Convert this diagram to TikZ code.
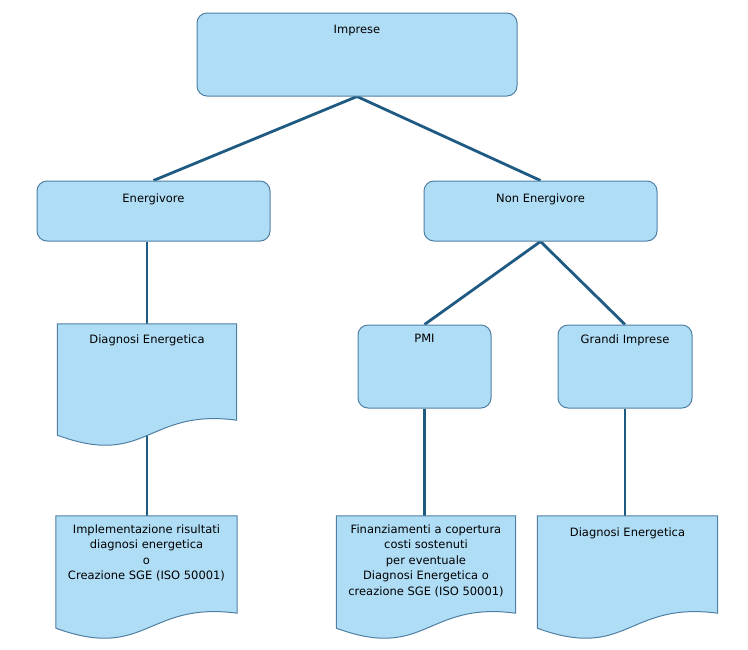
\documentclass[tikz,border=0pt]{standalone}
\usepackage{fontspec}
\setmainfont{DejaVu Sans}
\usepackage{tikz}
\usetikzlibrary{calc, backgrounds}

\definecolor{boxfill}{HTML}{B0DDF6}
\definecolor{boxline}{HTML}{4F7FA3}
\definecolor{linkblue}{HTML}{1F5A82}

\begin{document}
\begin{tikzpicture}[
    x=1pt, y=1pt,
    box/.style={draw=boxline, fill=boxfill, line width=1pt, rounded corners=10pt, inner sep=0pt},
    docbox/.style={draw=none, fill=none, inner sep=0pt},
    doc/.style={draw=boxline, fill=boxfill, line width=1pt},
    caption/.style={anchor=north, align=center, font=\fontsize{11.5}{15.5}\selectfont},
    link/.style={draw=linkblue, line width=2.8pt}
]
\useasboundingbox (0,0) rectangle (748,-649);

% boxes
\node[box, minimum width=320, minimum height=83, label={[caption, yshift=-9]north:Imprese}] (imprese) at (357,-54.5) {};
\node[box, minimum width=233, minimum height=60, label={[caption, yshift=-10]north:Energivore}] (energ) at (153.5,-211) {};
\node[box, minimum width=233, minimum height=60, label={[caption, yshift=-10]north:Non Energivore}] (nonenerg) at (540.5,-211) {};
\node[box, minimum width=133, minimum height=83, label={[caption, yshift=-6]north:PMI}] (pmi) at (424.5,-366.5) {};
\node[box, minimum width=134, minimum height=83, label={[caption, yshift=-7]north:Grandi Imprese}] (grandi) at (625,-366.5) {};

% documents
\node[docbox, minimum width=179, minimum height=120, label={[caption, yshift=-7]north:Diagnosi Energetica}] (diagL) at (147,-384) {};
\node[docbox, minimum width=181, minimum height=121, label={[caption, yshift=-5]north:Implementazione risultati\\diagnosi energetica\\o\\Creazione SGE (ISO 50001)}] (implL) at (146.5,-576.5) {};
\node[docbox, minimum width=179, minimum height=121, label={[caption, yshift=-5]north:Finanziamenti a copertura\\costi sostenuti\\per eventuale\\Diagnosi Energetica o\\creazione SGE (ISO 50001)}] (finM) at (426,-576.5) {};
\node[docbox, minimum width=180, minimum height=121, label={[caption, yshift=-8]north:Diagnosi Energetica}] (diagR) at (627.5,-576.5) {};

\begin{scope}[on background layer]
% connectors
\draw[link] (imprese.south) -- (energ.north);
\draw[link] (imprese.south) -- (nonenerg.north);
\draw[link] (nonenerg.south) -- (pmi.north);
\draw[link] (nonenerg.south) -- (grandi.north);
\draw[link] (diagL.north |- energ.south) -- (diagL.north);
\draw[link] (diagL.center) -- (implL.north -| diagL.center);
\draw[link] (pmi.south) -- (finM.north -| pmi.south);
\draw[link] (grandi.south) -- (diagR.north -| grandi.south);
% document shapes
\foreach \d in {diagL, implL, finM, diagR}
  \draw[doc] (\d.north west) -- (\d.north east) -- ($(\d.south east)+(0,24)$)
    .. controls ($(\d.south)+(0,36)$) and ($(\d.south)+(0,-24)$) .. ($(\d.south west)+(0,9)$) -- cycle;
\end{scope}

\end{tikzpicture}
\end{document}
